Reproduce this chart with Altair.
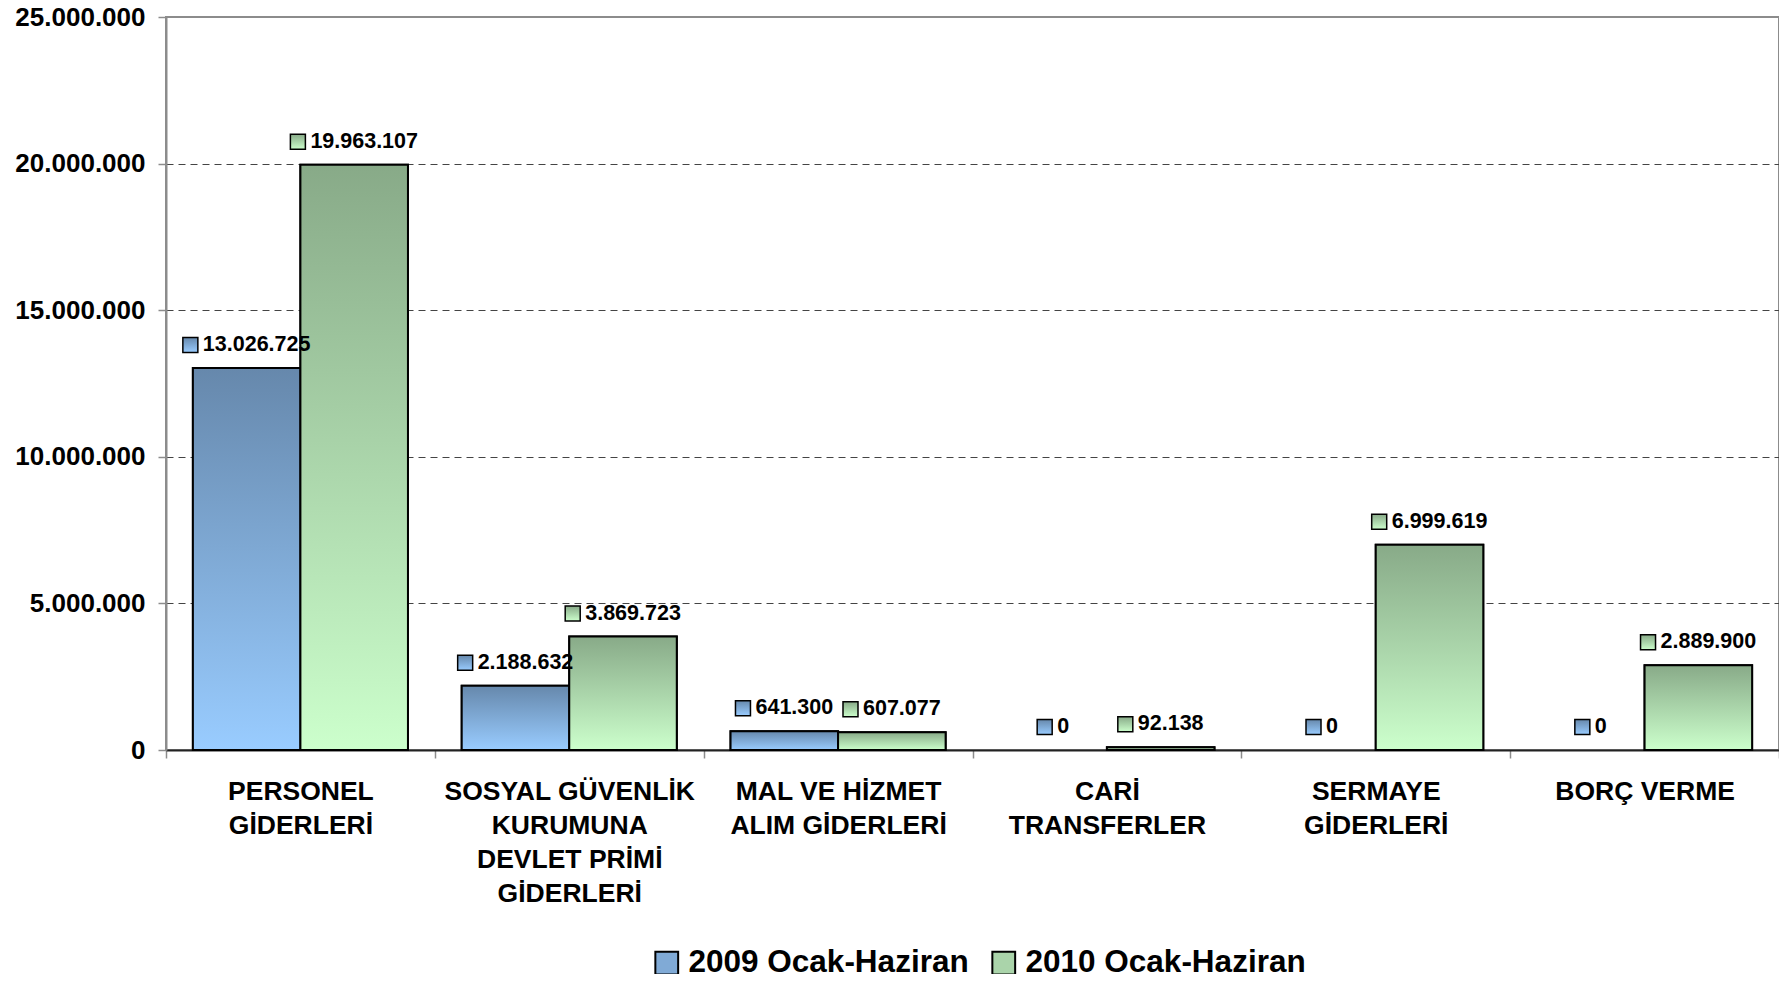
import altair as alt
import pandas as pd

categories = [
    "PERSONEL|GİDERLERİ",
    "SOSYAL GÜVENLİK|KURUMUNA|DEVLET PRİMİ|GİDERLERİ",
    "MAL VE HİZMET|ALIM GİDERLERİ",
    "CARİ|TRANSFERLER",
    "SERMAYE|GİDERLERİ",
    "BORÇ VERME",
]
series = ["2009 Ocak-Haziran", "2010 Ocak-Haziran"]
values_2009 = [13026725, 2188632, 641300, 0, 0, 0]
values_2010 = [19963107, 3869723, 607077, 92138, 6999619, 2889900]
y_ticks = [0, 5000000, 10000000, 15000000, 20000000, 25000000]

rows = []
for c, a, b in zip(categories, values_2009, values_2010):
    rows.append({"cat": c, "series": series[0], "value": a})
    rows.append({"cat": c, "series": series[1], "value": b})
df = pd.DataFrame(rows)

FONT = "Liberation Sans"
grad_blue = {
    "gradient": "linear", "x1": 0, "x2": 0, "y1": 0, "y2": 1,
    "stops": [{"offset": 0, "color": "#6688ac"}, {"offset": 1, "color": "#99ccff"}],
}
grad_green = {
    "gradient": "linear", "x1": 0, "x2": 0, "y1": 0, "y2": 1,
    "stops": [{"offset": 0, "color": "#88aa88"}, {"offset": 1, "color": "#ccffcc"}],
}
is_2009 = f"datum.series === '{series[0]}'"
fill_grad = alt.condition(is_2009, alt.value(grad_blue), alt.value(grad_green))

x_enc = alt.X(
    "cat:N", sort=categories, title=None,
    scale=alt.Scale(paddingInner=0, paddingOuter=0),
    axis=alt.Axis(
        labelExpr="split(datum.label, '|')", labelAngle=0, tickBand="extent",
        labelFont=FONT, labelFontSize=26.5, labelFontWeight="bold", labelColor="black",
        labelLineHeight=34, labelPadding=20, labelLimit=400,
        domainColor="#222222", domainWidth=2, tickColor="#8c8c8c", tickSize=8, tickWidth=1.5,
        grid=False,
    ),
)
xo_enc = alt.XOffset("series:N", sort=series, scale=alt.Scale(paddingInner=0, paddingOuter=0.25))
y_enc = alt.Y(
    "value:Q", title=None,
    scale=alt.Scale(domain=[0, 25000000], nice=False),
    axis=alt.Axis(
        values=y_ticks,
        labelExpr="replace(format(datum.value, ','), regexp(',', 'g'), '.')",
        labelFont=FONT, labelFontSize=26, labelFontWeight="bold", labelColor="black",
        labelPadding=13, domainColor="#8c8c8c", domainWidth=2,
        tickColor="#8c8c8c", tickSize=8, tickWidth=1.5,
        grid=True, gridColor="#444444", gridDash=[7, 5], gridWidth=1,
        gridOpacity={"condition": {"test": "datum.value === 0 || datum.value === 25000000", "value": 0}, "value": 1},
    ),
)

base = alt.Chart(df)

legend_bars = base.transform_filter("datum.value > 0").mark_bar(stroke="black", strokeWidth=2).encode(
    x=x_enc, xOffset=xo_enc, y=y_enc,
    color=alt.Color(
        "series:N", sort=series,
        scale=alt.Scale(domain=series, range=["#80aad6", "#aad4aa"]),
        legend=alt.Legend(
            title=None, orient="none", legendX=485, legendY=930, direction="horizontal",
            symbolType="square", symbolSize=520, symbolStrokeColor="black", symbolStrokeWidth=2,
            symbolOpacity=1, labelFont=FONT, labelFontSize=31.5, labelFontWeight="bold",
            labelColor="black", columnPadding=19, labelOffset=6, labelLimit=500,
        ),
    ),
)

grad_bars = base.transform_filter("datum.value > 0").mark_bar(stroke="black", strokeWidth=2).encode(
    x=x_enc, xOffset=xo_enc, y=y_enc, fill=fill_grad,
)

FS = 21.5
HALF = 7.5  # half side of the key square, in px
lab = base.transform_calculate(
    lab="replace(format(datum.value, ','), regexp(',', 'g'), '.')"
).transform_calculate(
    nd="length(replace(datum.lab, regexp('[.]', 'g'), ''))"
).transform_calculate(
    np="length(datum.lab) - datum.nd"
).transform_calculate(
    tot=f"(datum.nd * 0.556 + datum.np * 0.278) * {FS} + 20"
).transform_calculate(
    o=f"(-datum.tot / 2 + {HALF}) / {HALF}"
).transform_calculate(
    keypath="'M ' + (datum.o - 1) + ' -1 L ' + (datum.o + 1) + ' -1 L ' + (datum.o + 1) + ' 1 L ' + (datum.o - 1) + ' 1 Z'"
)

squares = lab.mark_point(
    size=(2 * HALF) ** 2, filled=True, stroke="black", strokeWidth=1.5, opacity=1, yOffset=-23,
).encode(
    x=x_enc, xOffset=xo_enc, y=y_enc, fill=fill_grad,
    shape=alt.Shape("keypath:N", scale=None, legend=None),
)

texts = lab.mark_text(
    align="left", baseline="middle", dy=-23, dx=alt.ExprRef("-datum.tot / 2 + 20"),
    font=FONT, fontSize=FS, fontWeight="bold", color="black",
).encode(x=x_enc, xOffset=xo_enc, y=y_enc, text="lab:N")

chart = alt.layer(legend_bars, grad_bars, squares, texts).properties(
    width=1613, height=733,
    autosize=alt.AutoSizeParams(type="none"),
    padding={"left": 158, "top": 9, "right": 0, "bottom": 224},
).configure_view(stroke="#8c8c8c", strokeWidth=2)

chart.save("out.html", embed_options={"renderer": "svg", "actions": False})
